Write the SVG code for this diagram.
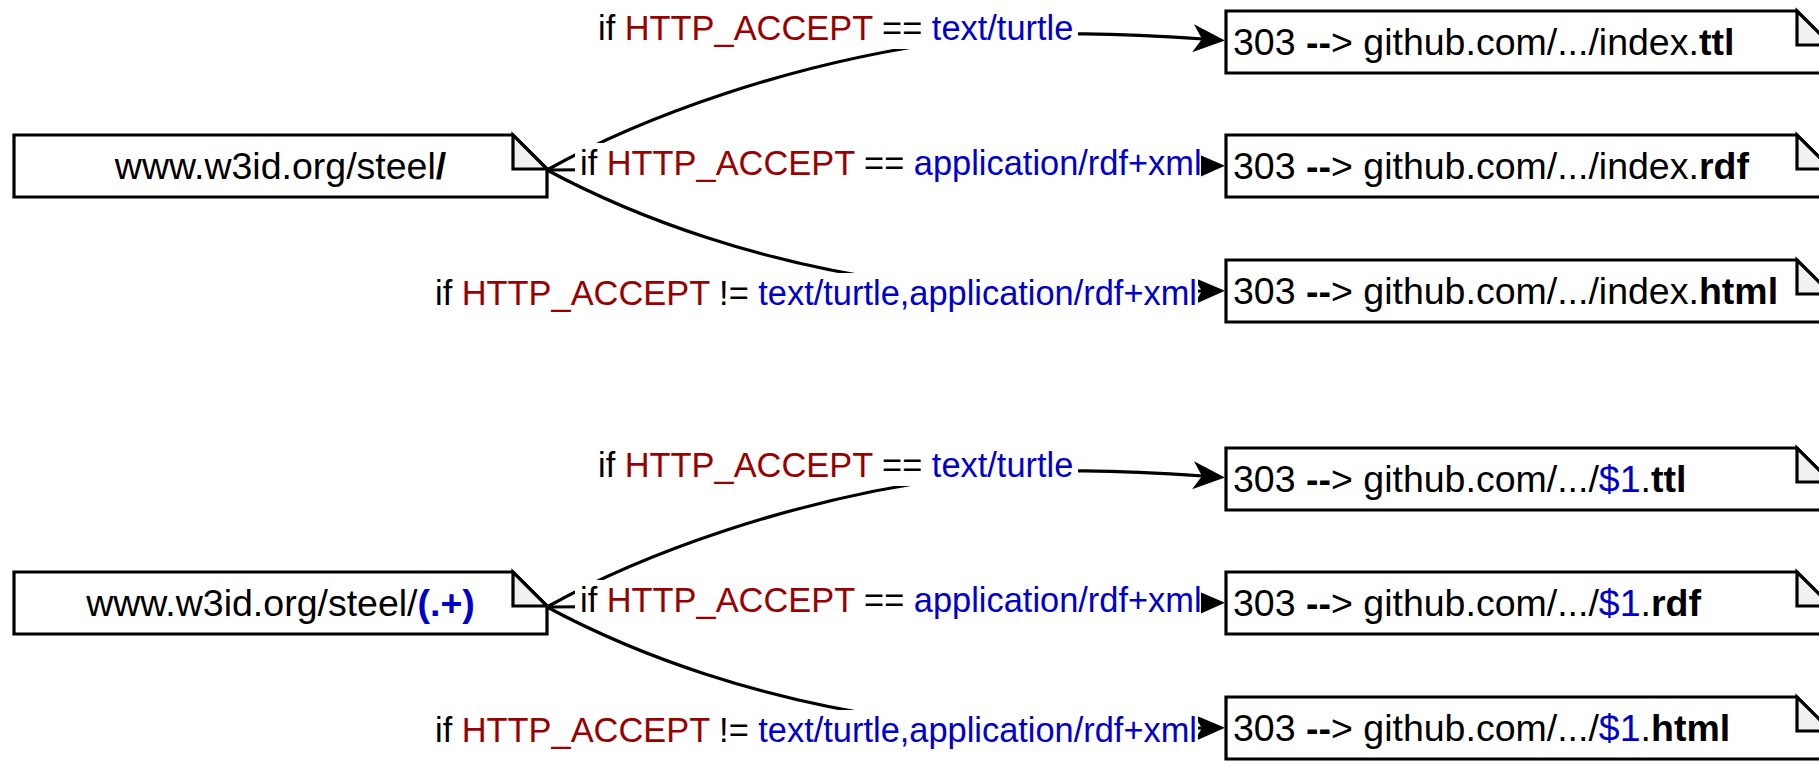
<svg xmlns="http://www.w3.org/2000/svg" width="1819" height="761" viewBox="0 0 1819 761">
  <defs>
    <style>
      .box { fill: #ffffff; stroke: #000000; stroke-width: 3.2; stroke-linejoin: miter; }
      .fold { fill: #f1f1f1; stroke: #000000; stroke-width: 3.2; stroke-linejoin: miter; }
      .edge { fill: none; stroke: #000000; stroke-width: 3.2; }
      .lbl-bg { fill: #ffffff; stroke: none; }
      .node-txt { font-family: "Liberation Sans", Arial, sans-serif; font-size: 37.5px; fill: #000000; }
      .lbl-txt { font-family: "Liberation Sans", Arial, sans-serif; font-size: 34.4px; fill: #000000; }
      .b { font-weight: bold; }
      .key { fill: #990000; }
      .val { fill: #0000cc; }
    </style>
    <marker id="arrow" markerUnits="userSpaceOnUse" markerWidth="33" markerHeight="30" viewBox="0 0 33 30" refX="10" refY="15" orient="auto">
      <path d="M0,1 L32,15 L0,29 L9,15 Z" fill="#000000"/>
    </marker>
  </defs>

  <!-- connectors (paths first, labels on top) -->
  <g id="connectors">
    <g id="edges-upper">
      <path class="edge" marker-end="url(#arrow)" d="M547,170 C640,118 790,62 960,40 C1040,30 1130,34 1203,39"/>
      <path class="edge" marker-end="url(#arrow)" d="M547,170 L1203,166"/>
      <path class="edge" marker-end="url(#arrow)" d="M547,170 C640,220 760,262 900,282 C1000,296 1120,292 1203,291"/>
    </g>
    <g id="edges-lower" transform="translate(0,437)">
      <path class="edge" marker-end="url(#arrow)" d="M547,170 C640,118 790,62 960,40 C1040,30 1130,34 1203,39"/>
      <path class="edge" marker-end="url(#arrow)" d="M547,170 L1203,166"/>
      <path class="edge" marker-end="url(#arrow)" d="M547,170 C640,220 760,262 900,282 C1000,296 1120,292 1203,291"/>
    </g>
    <g id="labels-upper">
      <rect class="lbl-bg" x="593" y="9" width="485" height="40"/>
      <text class="lbl-txt" x="598" y="40">if <tspan class="key">HTTP_ACCEPT</tspan> == <tspan class="val">text/turtle</tspan></text>
      <rect class="lbl-bg" x="575" y="143" width="626" height="40"/>
      <text class="lbl-txt" x="580" y="175">if <tspan class="key">HTTP_ACCEPT</tspan> == <tspan class="val">application/rdf+xml</tspan></text>
      <rect class="lbl-bg" x="430" y="273" width="768" height="40"/>
      <text class="lbl-txt" x="435" y="305">if <tspan class="key">HTTP_ACCEPT</tspan> != <tspan class="val">text/turtle,application/rdf+xml</tspan></text>
    </g>
    <g id="labels-lower" transform="translate(0,437)">
      <rect class="lbl-bg" x="593" y="9" width="485" height="40"/>
      <text class="lbl-txt" x="598" y="40">if <tspan class="key">HTTP_ACCEPT</tspan> == <tspan class="val">text/turtle</tspan></text>
      <rect class="lbl-bg" x="575" y="143" width="626" height="40"/>
      <text class="lbl-txt" x="580" y="175">if <tspan class="key">HTTP_ACCEPT</tspan> == <tspan class="val">application/rdf+xml</tspan></text>
      <rect class="lbl-bg" x="430" y="273" width="768" height="40"/>
      <text class="lbl-txt" x="435" y="305">if <tspan class="key">HTTP_ACCEPT</tspan> != <tspan class="val">text/turtle,application/rdf+xml</tspan></text>
    </g>
  </g>

  <!-- source notes -->
  <g id="src-index">
    <path class="box" d="M14,135 H513 L547,169 V197 H14 Z"/>
    <path class="fold" d="M513,135 V169 H547 Z"/>
    <text class="node-txt" x="280.5" y="179" text-anchor="middle">www.w3id.org/steel<tspan class="b">/</tspan></text>
  </g>
  <g id="src-pattern">
    <path class="box" d="M14,572 H513 L547,606 V634 H14 Z"/>
    <path class="fold" d="M513,572 V606 H547 Z"/>
    <text class="node-txt" x="280.5" y="616" text-anchor="middle">www.w3id.org/steel/<tspan class="b val">(.+)</tspan></text>
  </g>

  <!-- redirect targets: index.* -->
  <g id="tgt-index-ttl">
    <path class="box" d="M1226,11 H1797 L1831,45 V73 H1226 Z"/>
    <path class="fold" d="M1797,11 V45 H1831 Z"/>
    <text class="node-txt" x="1233" y="55">303 <tspan class="b">--</tspan>&gt; github.com/.../index.<tspan class="b">ttl</tspan></text>
  </g>
  <g id="tgt-index-rdf">
    <path class="box" d="M1226,135 H1797 L1831,169 V197 H1226 Z"/>
    <path class="fold" d="M1797,135 V169 H1831 Z"/>
    <text class="node-txt" x="1233" y="179">303 <tspan class="b">--</tspan>&gt; github.com/.../index.<tspan class="b">rdf</tspan></text>
  </g>
  <g id="tgt-index-html">
    <path class="box" d="M1226,260 H1797 L1831,294 V322 H1226 Z"/>
    <path class="fold" d="M1797,260 V294 H1831 Z"/>
    <text class="node-txt" x="1233" y="304">303 <tspan class="b">--</tspan>&gt; github.com/.../index.<tspan class="b">html</tspan></text>
  </g>

  <!-- redirect targets: $1.* -->
  <g id="tgt-match-ttl">
    <path class="box" d="M1226,448 H1797 L1831,482 V510 H1226 Z"/>
    <path class="fold" d="M1797,448 V482 H1831 Z"/>
    <text class="node-txt" x="1233" y="492">303 <tspan class="b">--</tspan>&gt; github.com/.../<tspan class="val">$1</tspan>.<tspan class="b">ttl</tspan></text>
  </g>
  <g id="tgt-match-rdf">
    <path class="box" d="M1226,572 H1797 L1831,606 V634 H1226 Z"/>
    <path class="fold" d="M1797,572 V606 H1831 Z"/>
    <text class="node-txt" x="1233" y="616">303 <tspan class="b">--</tspan>&gt; github.com/.../<tspan class="val">$1</tspan>.<tspan class="b">rdf</tspan></text>
  </g>
  <g id="tgt-match-html">
    <path class="box" d="M1226,697 H1797 L1831,731 V759 H1226 Z"/>
    <path class="fold" d="M1797,697 V731 H1831 Z"/>
    <text class="node-txt" x="1233" y="741">303 <tspan class="b">--</tspan>&gt; github.com/.../<tspan class="val">$1</tspan>.<tspan class="b">html</tspan></text>
  </g>
</svg>
